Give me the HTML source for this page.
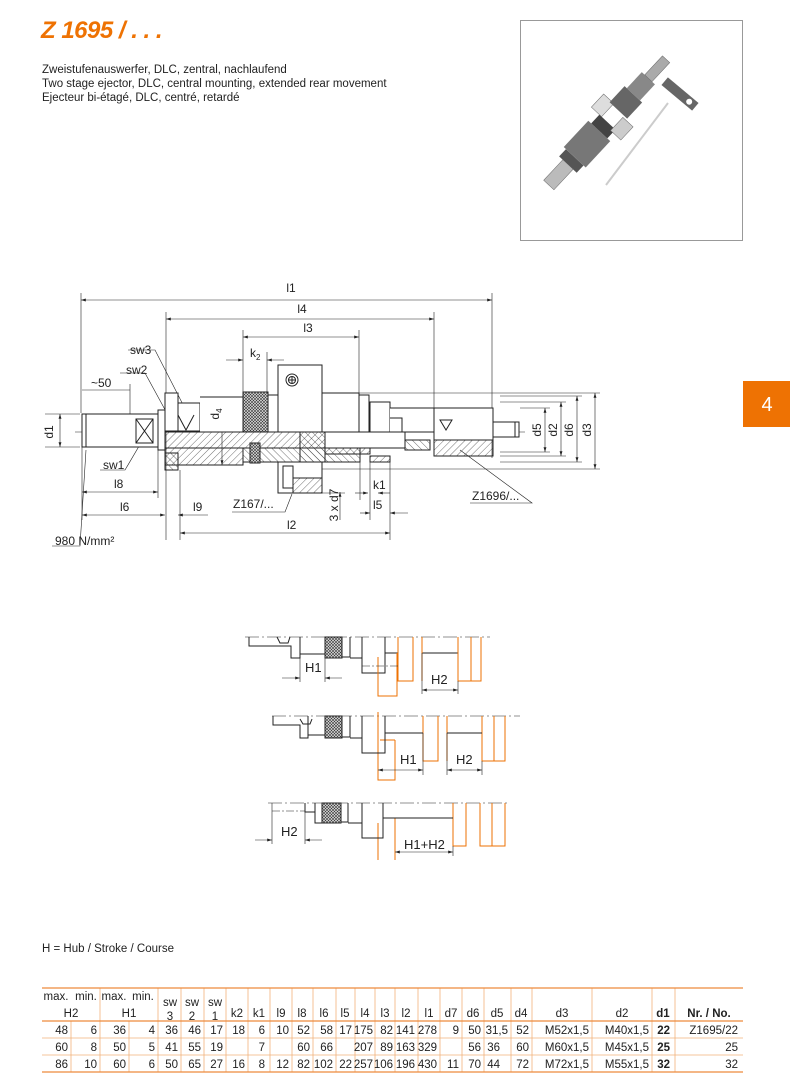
<!DOCTYPE html>
<html><head><meta charset="utf-8"><style>
html,body{margin:0;padding:0;background:#fff}
svg{display:block}
text{font-family:"Liberation Sans",sans-serif;fill:#222}
</style></head><body>
<svg width="790" height="1083" viewBox="0 0 790 1083" xmlns="http://www.w3.org/2000/svg">
<defs>
<pattern id="h" width="5" height="5" patternUnits="userSpaceOnUse" patternTransform="rotate(45)"><line x1="0" y1="0" x2="0" y2="5" stroke="#333" stroke-width="0.7"/></pattern>
<pattern id="h2" width="5" height="5" patternUnits="userSpaceOnUse" patternTransform="rotate(-45)"><line x1="0" y1="0" x2="0" y2="5" stroke="#333" stroke-width="0.7"/></pattern>
<pattern id="k" width="3" height="3" patternUnits="userSpaceOnUse"><rect width="3" height="3" fill="#ddd"/><path d="M0 0L3 3M3 0L0 3" stroke="#333" stroke-width="0.6"/></pattern>
<marker id="a" viewBox="0 0 10 6" refX="10" refY="3" markerWidth="8" markerHeight="5" orient="auto-start-reverse"><path d="M0 0L10 3L0 6z" fill="#222"/></marker>
</defs>

<!-- header -->
<text x="41" y="38" font-size="24" font-weight="bold" font-style="italic" style="fill:#ee7203" letter-spacing="-0.5">Z 1695 / . . .</text>
<text x="42" y="73" font-size="11.5">Zweistufenauswerfer, DLC, zentral, nachlaufend</text>
<text x="42" y="87" font-size="11.5">Two stage ejector, DLC, central mounting, extended rear movement</text>
<text x="42" y="101" font-size="11.5">Ejecteur bi-étagé, DLC, centré, retardé</text>

<!-- photo box -->
<rect x="520.5" y="20.5" width="222" height="220" fill="#fff" stroke="#999"/>
<g transform="translate(602,128) rotate(-47)">
<rect x="-78" y="-7" width="30" height="14" fill="#bbb" stroke="#666" stroke-width="0.5"/>
<rect x="-50" y="-12" width="10" height="24" fill="#555"/>
<rect x="-40" y="-15" width="36" height="30" fill="#777"/>
<rect x="-4" y="-11" width="12" height="22" fill="#444"/>
<rect x="8" y="-22" width="18" height="14" fill="#ddd" stroke="#666" stroke-width="0.5"/>
<rect x="4" y="8" width="18" height="14" fill="#ccc" stroke="#666" stroke-width="0.5"/>
<rect x="24" y="-12" width="22" height="24" fill="#666"/>
<rect x="46" y="-9" width="22" height="18" fill="#888"/>
<rect x="68" y="-5" width="26" height="10" fill="#aaa" stroke="#666" stroke-width="0.5"/>
</g>
<line x1="606" y1="185" x2="668" y2="103" stroke="#ccc" stroke-width="2"/>
<g transform="translate(680,94) rotate(40)"><rect x="-20" y="-5" width="40" height="10" fill="#666"/><circle cx="12" cy="0" r="3" fill="#fff"/></g>

<!-- tab -->
<rect x="743" y="381" width="47" height="46" fill="#ee7203"/>
<text x="767" y="411" font-size="20" text-anchor="middle" style="fill:#fff">4</text>

<!-- MAIN DRAWING -->
<g stroke="#222" stroke-width="0.6" fill="none">
<!-- dimension lines -->
<line x1="81" y1="300" x2="492" y2="300" marker-start="url(#a)" marker-end="url(#a)"/>
<line x1="166" y1="319" x2="434" y2="319" marker-start="url(#a)" marker-end="url(#a)"/>
<line x1="243" y1="337" x2="359" y2="337" marker-start="url(#a)" marker-end="url(#a)"/>
<line x1="226" y1="360" x2="243" y2="360" marker-end="url(#a)"/><line x1="284" y1="360" x2="267" y2="360" marker-end="url(#a)"/>
<line x1="82" y1="390" x2="130" y2="390"/>
<line x1="60" y1="414" x2="60" y2="447" marker-start="url(#a)" marker-end="url(#a)"/>
<line x1="45" y1="414" x2="80" y2="414"/><line x1="45" y1="447" x2="80" y2="447"/>
<line x1="82" y1="492" x2="158" y2="492" marker-start="url(#a)" marker-end="url(#a)"/>
<line x1="82" y1="515" x2="165" y2="515" marker-start="url(#a)" marker-end="url(#a)"/>
<line x1="208" y1="515" x2="178" y2="515" marker-end="url(#a)"/>
<line x1="180" y1="533" x2="390" y2="533" marker-start="url(#a)" marker-end="url(#a)"/>
<line x1="222" y1="398" x2="222" y2="465" marker-start="url(#a)" marker-end="url(#a)"/>
<line x1="545" y1="408" x2="545" y2="452" marker-start="url(#a)" marker-end="url(#a)"/>
<line x1="561" y1="402" x2="561" y2="456" marker-start="url(#a)" marker-end="url(#a)"/>
<line x1="577" y1="396" x2="577" y2="462" marker-start="url(#a)" marker-end="url(#a)"/>
<line x1="595" y1="393" x2="595" y2="469" marker-start="url(#a)" marker-end="url(#a)"/>
<line x1="355" y1="493" x2="368" y2="493" marker-end="url(#a)"/><line x1="390" y1="493" x2="378" y2="493" marker-end="url(#a)"/>
<line x1="360" y1="513" x2="370" y2="513" marker-end="url(#a)"/><line x1="408" y1="513" x2="390" y2="513" marker-end="url(#a)"/>
<line x1="340" y1="520" x2="340" y2="492" marker-end="url(#a)"/>
<!-- extension lines -->
<line x1="81" y1="293" x2="81" y2="413"/><line x1="492" y1="293" x2="492" y2="458"/>
<line x1="166" y1="312" x2="166" y2="540"/><line x1="434" y1="312" x2="434" y2="408"/>
<line x1="243" y1="330" x2="243" y2="392"/><line x1="359" y1="330" x2="359" y2="393"/>
<line x1="267" y1="352" x2="267" y2="392"/>
<line x1="130" y1="384" x2="130" y2="414"/>
<line x1="82" y1="447" x2="82" y2="520"/><line x1="158" y1="447" x2="158" y2="498"/>
<line x1="180" y1="470" x2="180" y2="540"/><line x1="390" y1="456" x2="390" y2="540"/>
<line x1="370" y1="456" x2="370" y2="520"/><line x1="360" y1="462" x2="360" y2="500"/>
<line x1="320" y1="493" x2="345" y2="493"/>
<line x1="322" y1="393" x2="600" y2="393"/><line x1="322" y1="469" x2="600" y2="469"/>
<line x1="500" y1="396" x2="582" y2="396"/><line x1="500" y1="462" x2="582" y2="462"/>
<line x1="500" y1="402" x2="566" y2="402"/><line x1="500" y1="456" x2="566" y2="456"/>
<line x1="520" y1="408" x2="550" y2="408"/><line x1="500" y1="452" x2="550" y2="452"/>
<!-- leaders -->
<polyline points="128,350 155,350 195,428"/>
<polyline points="120,373 145,373 175,428"/>
<polyline points="100,470 125,470 145,436"/>
<polyline points="52,546 80,546 86,450"/>
<polyline points="232,512 285,512 292,494"/>
<polyline points="470,503 532,503 460,450"/>
</g>
<!-- centerline -->
<line x1="75" y1="432" x2="525" y2="432" stroke="#222" stroke-width="0.6" stroke-dasharray="14,3,2,3"/>

<g stroke="#222" stroke-width="1" fill="#fff">
<!-- hatched sections -->
<rect x="165" y="432" width="160" height="16" fill="url(#h)"/>
<rect x="165" y="448" width="78" height="17" fill="url(#h)"/>
<rect x="165" y="453" width="13" height="17" fill="url(#h2)"/>
<rect x="243" y="448" width="117" height="14" fill="url(#h2)"/>
<rect x="325" y="448" width="45" height="6" fill="url(#h)"/>
<rect x="300" y="432" width="25" height="30" fill="url(#h2)"/>
<rect x="250" y="443" width="10" height="20" fill="url(#k)"/>
<rect x="278" y="462" width="44" height="31" fill="#fff"/>
<rect x="283" y="466" width="10" height="22" fill="#fff"/>
<rect x="293" y="478" width="29" height="15" fill="url(#h)"/>
<rect x="370" y="456" width="20" height="6" fill="url(#h)"/>
<rect x="405" y="440" width="25" height="10" fill="url(#h2)"/>
<rect x="434" y="440" width="59" height="16" fill="url(#h)"/>
<rect x="325" y="432" width="80" height="16" fill="#fff"/>
<!-- shaft -->
<rect x="82" y="414" width="76" height="33"/>
<line x1="86" y1="414" x2="86" y2="447"/>
<rect x="136" y="419" width="17" height="24"/>
<path d="M136 419L153 443M153 419L136 443" fill="none"/>
<rect x="158" y="410" width="7" height="40"/>
<!-- flange -->
<rect x="165" y="393" width="13" height="38"/>
<rect x="178" y="403" width="22" height="28"/>
<path d="M178 415L186 430L194 415" fill="none"/>
<path d="M200 397L243 397L243 432L200 432" fill="#fff"/>
<!-- knurl -->
<rect x="243" y="392" width="25" height="40" fill="url(#k)"/>
<rect x="268" y="395" width="10" height="37"/>
<rect x="278" y="365" width="44" height="67"/>
<circle cx="292" cy="380" r="6" fill="#fff"/><circle cx="292" cy="380" r="3.5" fill="none"/>
<path d="M288.5 380H295.5M292 376.5V383.5" fill="none"/>
<rect x="322" y="393" width="37" height="39"/>
<rect x="359" y="395" width="10" height="37"/>
<rect x="370" y="402" width="20" height="30"/>
<path d="M390 408H434V432H390" fill="#fff"/>
<path d="M390 418H402V432" fill="none"/>
<rect x="434" y="408" width="59" height="32"/>
<path d="M440 420L446 430L452 420Z" fill="none"/>
<rect x="493" y="422" width="26" height="15"/>
<line x1="515" y1="422" x2="515" y2="437"/>
</g>

<!-- main labels -->
<g font-size="12">
<text x="291" y="292" text-anchor="middle">l1</text>
<text x="302" y="313" text-anchor="middle">l4</text>
<text x="308" y="332" text-anchor="middle">l3</text>
<text x="250" y="357">k<tspan font-size="8" dy="3">2</tspan></text>
<text x="130" y="354">sw3</text>
<text x="126" y="374">sw2</text>
<text x="91" y="387">~50</text>
<text x="103" y="469">sw1</text>
<text x="114" y="488">l8</text>
<text x="120" y="511">l6</text>
<text x="193" y="511">l9</text>
<text x="287" y="529">l2</text>
<text x="233" y="508">Z167/...</text>
<text x="373" y="489">k1</text>
<text x="373" y="509">l5</text>
<text x="472" y="500">Z1696/...</text>
<text x="55" y="545">980 N/mm²</text>
<text transform="translate(53,432) rotate(-90)" text-anchor="middle">d1</text>
<text transform="translate(219,414) rotate(-90)" text-anchor="middle">d<tspan font-size="8" dy="3">4</tspan></text>
<text transform="translate(541,430) rotate(-90)" text-anchor="middle">d5</text>
<text transform="translate(557,430) rotate(-90)" text-anchor="middle">d2</text>
<text transform="translate(573,430) rotate(-90)" text-anchor="middle">d6</text>
<text transform="translate(591,430) rotate(-90)" text-anchor="middle">d3</text>
<text transform="translate(338,505) rotate(-90)" text-anchor="middle">3 x d7</text>
</g>

<!-- LOWER DIAGRAMS -->
<g stroke-width="0.6" stroke="#222" stroke-dasharray="14,3,2,3"><line x1="245" y1="637" x2="490" y2="637"/><line x1="272" y1="716" x2="520" y2="716"/><line x1="268" y1="803" x2="508" y2="803"/></g>
<!-- d1 -->
<g stroke="#222" stroke-width="1" fill="#fff">
<path d="M249 637V646H291V658H300V637" fill="none"/>
<path d="M300 654H325"/>
<rect x="325" y="637" width="17" height="21" fill="url(#k)"/>
<path d="M342 637V657H350V637M350 658H362M362 637V673H385V637" fill="none"/>
<path d="M277 637L280 643H288L290 637" fill="none"/>
<path d="M385 653H398M422 653H458" fill="none"/>
</g>
<g stroke="#ee7203" stroke-width="1" fill="none">
<path d="M378 657V696H397V653"/><path d="M398 637V681H413V637M422 637V681"/><path d="M458 637V681H481V637M471 637V681"/>
<path d="M378 712V780H395V740M395 740H380"/><path d="M423 716V761H438V716M447 716V761"/><path d="M482 716V761H505V716M494 716V761"/>
<path d="M378 823V860M395 818V860"/><path d="M453 803V846H466V803M480 803V846H505V803M492 803V846"/>
</g>
<g stroke="#222" stroke-width="0.6" fill="none">
<line x1="300" y1="658" x2="300" y2="682"/><line x1="325" y1="658" x2="325" y2="682"/>
<line x1="282" y1="678" x2="300" y2="678" marker-end="url(#a)"/><line x1="342" y1="678" x2="325" y2="678" marker-end="url(#a)"/>
<line x1="422" y1="690" x2="458" y2="690" marker-start="url(#a)" marker-end="url(#a)"/>
<line x1="422" y1="653" x2="422" y2="694"/><line x1="458" y1="681" x2="458" y2="694"/>
<line x1="362" y1="666" x2="400" y2="666" stroke-dasharray="8,2,2,2"/>
<line x1="378" y1="770" x2="423" y2="770" marker-start="url(#a)" marker-end="url(#a)"/>
<line x1="447" y1="770" x2="482" y2="770" marker-start="url(#a)" marker-end="url(#a)"/>
<line x1="423" y1="733" x2="423" y2="775"/><line x1="447" y1="733" x2="447" y2="775"/><line x1="482" y1="761" x2="482" y2="775"/>
<line x1="272" y1="803" x2="272" y2="844"/><line x1="305" y1="812" x2="305" y2="844"/>
<line x1="255" y1="840" x2="272" y2="840" marker-end="url(#a)"/><line x1="322" y1="840" x2="305" y2="840" marker-end="url(#a)"/>
<line x1="272" y1="811" x2="305" y2="811" stroke-dasharray="8,2,2,2"/>
<line x1="395" y1="852" x2="453" y2="852" marker-start="url(#a)" marker-end="url(#a)"/>
<line x1="453" y1="846" x2="453" y2="856"/>
</g>
<g stroke="#222" stroke-width="1" fill="#fff">
<path d="M273 716V725H300V738H308V716" fill="none"/>
<path d="M300 719L303 724H310L312 719" fill="none"/>
<path d="M308 735H325" fill="none"/>
<rect x="325" y="716" width="17" height="22" fill="url(#k)"/>
<path d="M342 716V737H350V716M350 738H362M362 716V753H385V716M385 733H423M447 733H482" fill="none"/>
<path d="M305 803V812H315M315 803V823H322" fill="none"/>
<rect x="322" y="803" width="19" height="20" fill="url(#k)"/>
<path d="M341 803V822H348V803M348 823H362M362 803V838H383V803M383 818H453" fill="none"/>
</g>
<g font-size="13">
<text x="305" y="672">H1</text><text x="431" y="684">H2</text>
<text x="400" y="764">H1</text><text x="456" y="764">H2</text>
<text x="281" y="836">H2</text><text x="404" y="849">H1+H2</text>
</g>

<!-- TABLE -->
<text x="42" y="952" font-size="11.5">H = Hub / Stroke / Course</text>
<g stroke="#f2b27a" stroke-width="0.8">
<line x1="42" y1="1038" x2="743" y2="1038"/><line x1="42" y1="1055" x2="743" y2="1055"/>
<line x1="71" y1="1021" x2="71" y2="1072"/><line x1="129" y1="1021" x2="129" y2="1072"/>
<line x1="100" y1="988" x2="100" y2="1072"/><line x1="158" y1="988" x2="158" y2="1072"/>
<line x1="181" y1="988" x2="181" y2="1072"/><line x1="204" y1="988" x2="204" y2="1072"/>
<line x1="226" y1="988" x2="226" y2="1072"/><line x1="248" y1="988" x2="248" y2="1072"/>
<line x1="270" y1="988" x2="270" y2="1072"/><line x1="292" y1="988" x2="292" y2="1072"/>
<line x1="313" y1="988" x2="313" y2="1072"/><line x1="336" y1="988" x2="336" y2="1072"/>
<line x1="355" y1="988" x2="355" y2="1072"/><line x1="375" y1="988" x2="375" y2="1072"/>
<line x1="395" y1="988" x2="395" y2="1072"/><line x1="418" y1="988" x2="418" y2="1072"/>
<line x1="440" y1="988" x2="440" y2="1072"/><line x1="462" y1="988" x2="462" y2="1072"/>
<line x1="484" y1="988" x2="484" y2="1072"/><line x1="511" y1="988" x2="511" y2="1072"/>
<line x1="532" y1="988" x2="532" y2="1072"/><line x1="592" y1="988" x2="592" y2="1072"/>
<line x1="652" y1="988" x2="652" y2="1072"/><line x1="675" y1="988" x2="675" y2="1072"/>
</g>
<g stroke="#ee8a3c" stroke-width="1.2">
<line x1="42" y1="988" x2="743" y2="988"/><line x1="42" y1="1021" x2="743" y2="1021"/><line x1="42" y1="1072" x2="743" y2="1072"/>
</g>
<g font-size="11.5" text-anchor="middle">
<text x="56" y="1000">max.</text><text x="86" y="1000">min.</text><text x="114" y="1000">max.</text><text x="143" y="1000">min.</text>
<text x="71" y="1017">H2</text><text x="129" y="1017">H1</text>
<text x="170" y="1006">sw</text><text x="170" y="1020">3</text>
<text x="192" y="1006">sw</text><text x="192" y="1020">2</text>
<text x="215" y="1006">sw</text><text x="215" y="1020">1</text>
<text x="237" y="1017">k2</text><text x="259" y="1017">k1</text><text x="281" y="1017">l9</text><text x="302" y="1017">l8</text>
<text x="324" y="1017">l6</text><text x="345" y="1017">l5</text><text x="365" y="1017">l4</text><text x="385" y="1017">l3</text>
<text x="406" y="1017">l2</text><text x="429" y="1017">l1</text><text x="451" y="1017">d7</text><text x="473" y="1017">d6</text>
<text x="497" y="1017">d5</text><text x="521" y="1017">d4</text><text x="562" y="1017">d3</text><text x="622" y="1017">d2</text>
<text x="663" y="1017" font-weight="bold">d1</text><text x="709" y="1017" font-weight="bold">Nr. / No.</text>
</g>
<g font-size="11.5" text-anchor="end">
<text y="1034"><tspan x="68">48</tspan><tspan x="97">6</tspan><tspan x="126">36</tspan><tspan x="155">4</tspan><tspan x="178">36</tspan><tspan x="201">46</tspan><tspan x="223">17</tspan><tspan x="245">18</tspan><tspan x="265">6</tspan><tspan x="289">10</tspan><tspan x="310">52</tspan><tspan x="333">58</tspan><tspan x="352">17</tspan><tspan x="373">175</tspan><tspan x="393">82</tspan><tspan x="415">141</tspan><tspan x="437">278</tspan><tspan x="459">9</tspan><tspan x="481">50</tspan><tspan x="508">31,5</tspan><tspan x="529">52</tspan><tspan x="589">M52x1,5</tspan><tspan x="649">M40x1,5</tspan><tspan x="670" font-weight="bold">22</tspan><tspan x="738">Z1695/22</tspan></text>
<text y="1051"><tspan x="68">60</tspan><tspan x="97">8</tspan><tspan x="126">50</tspan><tspan x="155">5</tspan><tspan x="178">41</tspan><tspan x="201">55</tspan><tspan x="223">19</tspan><tspan x="265">7</tspan><tspan x="310">60</tspan><tspan x="333">66</tspan><tspan x="373">207</tspan><tspan x="393">89</tspan><tspan x="415">163</tspan><tspan x="437">329</tspan><tspan x="481">56</tspan><tspan x="500">36</tspan><tspan x="529">60</tspan><tspan x="589">M60x1,5</tspan><tspan x="649">M45x1,5</tspan><tspan x="670" font-weight="bold">25</tspan><tspan x="738">25</tspan></text>
<text y="1068"><tspan x="68">86</tspan><tspan x="97">10</tspan><tspan x="126">60</tspan><tspan x="155">6</tspan><tspan x="178">50</tspan><tspan x="201">65</tspan><tspan x="223">27</tspan><tspan x="245">16</tspan><tspan x="265">8</tspan><tspan x="289">12</tspan><tspan x="310">82</tspan><tspan x="333">102</tspan><tspan x="352">22</tspan><tspan x="373">257</tspan><tspan x="393">106</tspan><tspan x="415">196</tspan><tspan x="437">430</tspan><tspan x="459">11</tspan><tspan x="481">70</tspan><tspan x="500">44</tspan><tspan x="529">72</tspan><tspan x="589">M72x1,5</tspan><tspan x="649">M55x1,5</tspan><tspan x="670" font-weight="bold">32</tspan><tspan x="738">32</tspan></text>
</g>
</svg>
</body></html>
